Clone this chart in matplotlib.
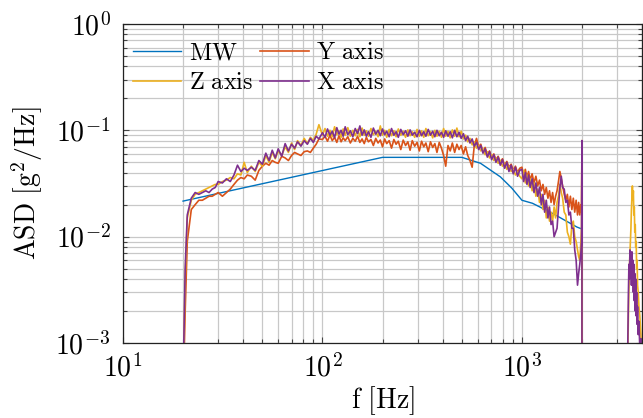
import numpy as np
import matplotlib
matplotlib.use("Agg")
import matplotlib.pyplot as plt
from matplotlib.ticker import LogLocator, FuncFormatter, NullFormatter

plt.rcParams['mathtext.fontset'] = 'cm'
plt.rcParams['font.family'] = ['DejaVu Serif']

# ---------------- data ----------------
# frequency grids [Hz]
freq_low = [20, 20.5, 21, 22, 23, 24, 25, 26, 27, 28, 29, 30, 31.5, 33, 34.5, 36, 37.5, 39, 40.5, 42,
            44, 46, 48, 50, 52, 54, 56, 58, 60, 62.5, 65, 67.5, 70, 72.5, 75, 78, 81, 84, 87, 90, 93, 96]
freq_mid = [100, 103, 106, 109, 112, 115, 118, 121, 124, 127,
            130, 134, 138, 142, 146, 150, 154, 158, 162, 166,
            170, 175, 180, 185, 190, 195, 200, 205, 210, 216,
            222, 228, 234, 240, 247, 254, 261, 268, 275, 282,
            290, 298, 306, 314, 322, 330, 339, 348, 357, 366,
            375, 385, 395, 405, 415, 426, 437, 448, 460, 472,
            484, 496, 509, 522, 535, 549, 563, 577, 592, 607,
            622, 638, 654, 671, 688, 705, 723, 741, 760, 779,
            799, 819, 840, 861, 883, 905, 928, 951, 975]
freq_high = [1000, 1020, 1040, 1060, 1080, 1100, 1125, 1150, 1175, 1200,
             1225, 1250, 1275, 1300, 1325, 1350, 1375, 1400, 1425, 1450,
             1475, 1500, 1525, 1550, 1575, 1600, 1630, 1660, 1690, 1720,
             1750, 1780, 1810, 1840, 1870, 1900, 1925, 1950, 1975, 1990,
             2000, 2000]
freq_gap = [2600, 3350]
freq_tail = [3380, 3400, 3420, 3440, 3460, 3480, 3500, 3520, 3540, 3560,
             3580, 3600, 3620, 3640, 3660, 3680, 3700, 3720, 3740, 3760,
             3780, 3800, 3830, 3860, 3900, 3950, 4000]

# MW reference profile
mw_freq = [20, 200, 500, 620, 780, 890, 1000, 1130, 1420, 1890, 2000]
mw_asd = [0.0216, 0.0557, 0.0557, 0.049, 0.0365, 0.0286, 0.022, 0.0206, 0.0166, 0.0123, 0.0118]

# Y axis (orange)
y_low = [0.0003, 0.002, 0.009, 0.018, 0.020, 0.022, 0.022, 0.023, 0.024, 0.024,
         0.025, 0.026, 0.024, 0.026, 0.028, 0.031, 0.034, 0.036, 0.035, 0.038,
         0.037, 0.034, 0.042, 0.046, 0.049, 0.047, 0.052, 0.050, 0.049, 0.057,
         0.055, 0.052, 0.058, 0.062, 0.060, 0.058, 0.063, 0.064, 0.062, 0.068,
         0.074, 0.083]
y_mid = [0.082, 0.088, 0.079, 0.090, 0.080, 0.086, 0.077, 0.089, 0.078, 0.085,
         0.080, 0.087, 0.076, 0.084, 0.079, 0.088, 0.077, 0.083, 0.075, 0.086,
         0.078, 0.082, 0.072, 0.084, 0.076, 0.081, 0.070, 0.083, 0.075, 0.080,
         0.068, 0.082, 0.074, 0.079, 0.066, 0.081, 0.072, 0.078, 0.065, 0.080,
         0.071, 0.077, 0.064, 0.079, 0.070, 0.076, 0.063, 0.078, 0.069, 0.075,
         0.062, 0.077, 0.068, 0.058, 0.046, 0.072, 0.064, 0.076, 0.062, 0.074,
         0.066, 0.072, 0.060, 0.070, 0.058, 0.052, 0.045, 0.072, 0.084, 0.070,
         0.074, 0.063, 0.069, 0.059, 0.064, 0.056, 0.060, 0.053, 0.057, 0.050,
         0.054, 0.047, 0.051, 0.045, 0.048, 0.042, 0.046, 0.040, 0.044]
y_high = [0.045, 0.038, 0.043, 0.036, 0.041, 0.034, 0.039, 0.032, 0.037, 0.030,
          0.034, 0.027, 0.031, 0.025, 0.029, 0.023, 0.027, 0.021, 0.026, 0.020,
          0.024, 0.027, 0.033, 0.041, 0.035, 0.030, 0.025, 0.022, 0.025, 0.019,
          0.024, 0.018, 0.023, 0.017, 0.022, 0.016, 0.021, 0.016, 0.020, 0.017,
          0.080, 1e-6]
y_gap = [1e-6, 1e-6]

# Z axis (yellow)
z_low = [0.0004, 0.004, 0.015, 0.022, 0.025, 0.026, 0.027, 0.028, 0.029, 0.030,
         0.031, 0.031, 0.033, 0.034, 0.036, 0.035, 0.039, 0.038, 0.050, 0.040,
         0.046, 0.041, 0.050, 0.046, 0.058, 0.050, 0.062, 0.054, 0.064, 0.058,
         0.070, 0.062, 0.076, 0.066, 0.080, 0.072, 0.084, 0.075, 0.086, 0.080,
         0.092, 0.113]
z_mid = [0.090, 0.104, 0.088, 0.100, 0.087, 0.108, 0.091, 0.099, 0.086, 0.103,
         0.090, 0.106, 0.088, 0.100, 0.089, 0.102, 0.087, 0.105, 0.090, 0.099,
         0.088, 0.104, 0.091, 0.098, 0.087, 0.110, 0.090, 0.100, 0.086, 0.102,
         0.089, 0.099, 0.087, 0.103, 0.090, 0.098, 0.086, 0.101, 0.089, 0.097,
         0.086, 0.102, 0.088, 0.099, 0.086, 0.104, 0.089, 0.097, 0.085, 0.100,
         0.088, 0.098, 0.086, 0.104, 0.088, 0.098, 0.085, 0.101, 0.088, 0.105,
         0.087, 0.098, 0.083, 0.090, 0.078, 0.084, 0.073, 0.078, 0.068, 0.072,
         0.064, 0.067, 0.059, 0.063, 0.055, 0.059, 0.052, 0.055, 0.049, 0.052,
         0.046, 0.049, 0.043, 0.046, 0.041, 0.043, 0.038, 0.041, 0.037]
z_high = [0.035, 0.042, 0.032, 0.038, 0.030, 0.035, 0.027, 0.032, 0.024, 0.028,
          0.021, 0.025, 0.018, 0.022, 0.015, 0.019, 0.014, 0.017, 0.014, 0.019,
          0.015, 0.021, 0.024, 0.031, 0.026, 0.023, 0.017, 0.016, 0.011, 0.010,
          0.0085, 0.013, 0.014, 0.010, 0.009, 0.0075, 0.0065, 0.006, 0.009, 0.012,
          0.080, 1e-6]
z_gap = [1e-6, 1e-6]
z_tail = [0.0005, 0.001, 0.002, 0.0035, 0.005, 0.007, 0.009, 0.012, 0.018, 0.024,
          0.030, 0.022, 0.027, 0.016, 0.019, 0.011, 0.013, 0.008, 0.009, 0.005,
          0.006, 0.0035, 0.003, 0.0022, 0.0018, 0.0012, 0.0006]

# X axis (purple)
x_low = [0.0004, 0.005, 0.016, 0.023, 0.026, 0.025, 0.026, 0.027, 0.026, 0.028,
         0.029, 0.033, 0.032, 0.035, 0.033, 0.038, 0.047, 0.041, 0.044, 0.042,
         0.045, 0.042, 0.052, 0.048, 0.061, 0.052, 0.065, 0.055, 0.067, 0.057,
         0.075, 0.064, 0.074, 0.068, 0.078, 0.071, 0.080, 0.074, 0.084, 0.077,
         0.088, 0.083]
x_mid = [0.095, 0.086, 0.103, 0.090, 0.098, 0.085, 0.106, 0.092, 0.100, 0.088,
         0.108, 0.091, 0.099, 0.087, 0.104, 0.093, 0.110, 0.090, 0.101, 0.088,
         0.097, 0.086, 0.105, 0.092, 0.100, 0.089, 0.103, 0.091, 0.098, 0.087,
         0.104, 0.090, 0.097, 0.086, 0.102, 0.091, 0.099, 0.088, 0.101, 0.090,
         0.096, 0.087, 0.100, 0.089, 0.097, 0.088, 0.102, 0.090, 0.098, 0.087,
         0.100, 0.089, 0.096, 0.086, 0.099, 0.088, 0.097, 0.085, 0.100, 0.087,
         0.096, 0.084, 0.093, 0.080, 0.088, 0.076, 0.083, 0.071, 0.077, 0.066,
         0.072, 0.061, 0.067, 0.056, 0.063, 0.053, 0.059, 0.050, 0.056, 0.047,
         0.053, 0.044, 0.050, 0.041, 0.047, 0.039, 0.045, 0.037, 0.042]
x_high = [0.043, 0.033, 0.040, 0.031, 0.038, 0.029, 0.035, 0.026, 0.032, 0.024,
          0.029, 0.020, 0.025, 0.017, 0.022, 0.015, 0.019, 0.013, 0.014, 0.010,
          0.011, 0.012, 0.019, 0.029, 0.037, 0.029, 0.028, 0.021, 0.022, 0.016,
          0.017, 0.012, 0.012, 0.0075, 0.006, 0.0035, 0.0045, 0.0055, 0.007, 0.009,
          0.080, 1e-6]
x_gap = [1e-6, 1e-6]
x_tail = [0.0005, 0.0012, 0.003, 0.0055, 0.004, 0.0075, 0.005, 0.0065, 0.0035, 0.0072,
          0.004, 0.006, 0.003, 0.0055, 0.0025, 0.0045, 0.002, 0.004, 0.0018, 0.003,
          0.0015, 0.0022, 0.0012, 0.0016, 0.0009, 0.0011, 0.0005]

# ---------------- plot ----------------
C_MW, C_Y, C_Z, C_X = '#0072BD', '#D95319', '#EDB120', '#7E2F8E'

fig = plt.figure(figsize=(6.43, 4.18), dpi=100)
ax = fig.add_axes([123/643, (418-343)/418, (642-123)/643, (343-24)/418])

f_main = freq_low + freq_mid + freq_high + freq_gap
lw = 1.2
h_mw, = ax.plot(mw_freq, mw_asd, color=C_MW, lw=1.0, label=r'$\mathrm{MW}$')
h_y, = ax.plot(f_main, y_low + y_mid + y_high + y_gap, color=C_Y, lw=lw,
               label=r'$\mathrm{Y\ axis}$')
h_z, = ax.plot(f_main + freq_tail, z_low + z_mid + z_high + z_gap + z_tail, color=C_Z, lw=lw,
               label=r'$\mathrm{Z\ axis}$')
h_x, = ax.plot(f_main + freq_tail, x_low + x_mid + x_high + x_gap + x_tail, color=C_X, lw=lw,
               label=r'$\mathrm{X\ axis}$')

ax.set_xscale('log')
ax.set_yscale('log')
ax.set_xlim(10, 4000)
ax.set_ylim(1e-3, 1)

fmt = FuncFormatter(lambda v, p: r'$10^{%d}$' % int(round(np.log10(v))))
ax.xaxis.set_major_locator(LogLocator(base=10, numticks=10))
ax.yaxis.set_major_locator(LogLocator(base=10, numticks=10))
ax.xaxis.set_minor_locator(LogLocator(base=10, subs=np.arange(2, 10), numticks=20))
ax.yaxis.set_minor_locator(LogLocator(base=10, subs=np.arange(2, 10), numticks=20))
ax.xaxis.set_major_formatter(fmt)
ax.yaxis.set_major_formatter(fmt)
ax.xaxis.set_minor_formatter(NullFormatter())
ax.yaxis.set_minor_formatter(NullFormatter())

ax.grid(True, which='both', color='#c8c8c8', lw=0.9)
ax.set_axisbelow(True)
ax.tick_params(which='both', direction='in', top=True, right=True, color='#444444', width=0.8)
ax.tick_params(which='major', length=4.5, labelsize=20)
ax.tick_params(which='minor', length=3)
ax.tick_params(axis='x', which='major', pad=8)
ax.tick_params(axis='y', which='major', pad=9)
for s in ax.spines.values():
    s.set_linewidth(0.9)
    s.set_color('#222222')

ax.set_xlabel(r'$\mathrm{f\ [Hz]}$', fontsize=20)
ax.set_ylabel(r'$\mathrm{ASD\ [g^2/Hz]}$', fontsize=20)
ax.xaxis.set_label_coords(0.5, -0.13)
ax.yaxis.set_label_coords(-0.15, 0.5)

leg = ax.legend(handles=[h_mw, h_z, h_y, h_x], ncol=2, loc='upper left',
                bbox_to_anchor=(-0.014, 1.0), frameon=False, fontsize=17.5,
                handlelength=2.0, handletextpad=0.3, columnspacing=0.3,
                labelspacing=0.3, borderaxespad=0.3)

fig.savefig('out.png', dpi=100)
